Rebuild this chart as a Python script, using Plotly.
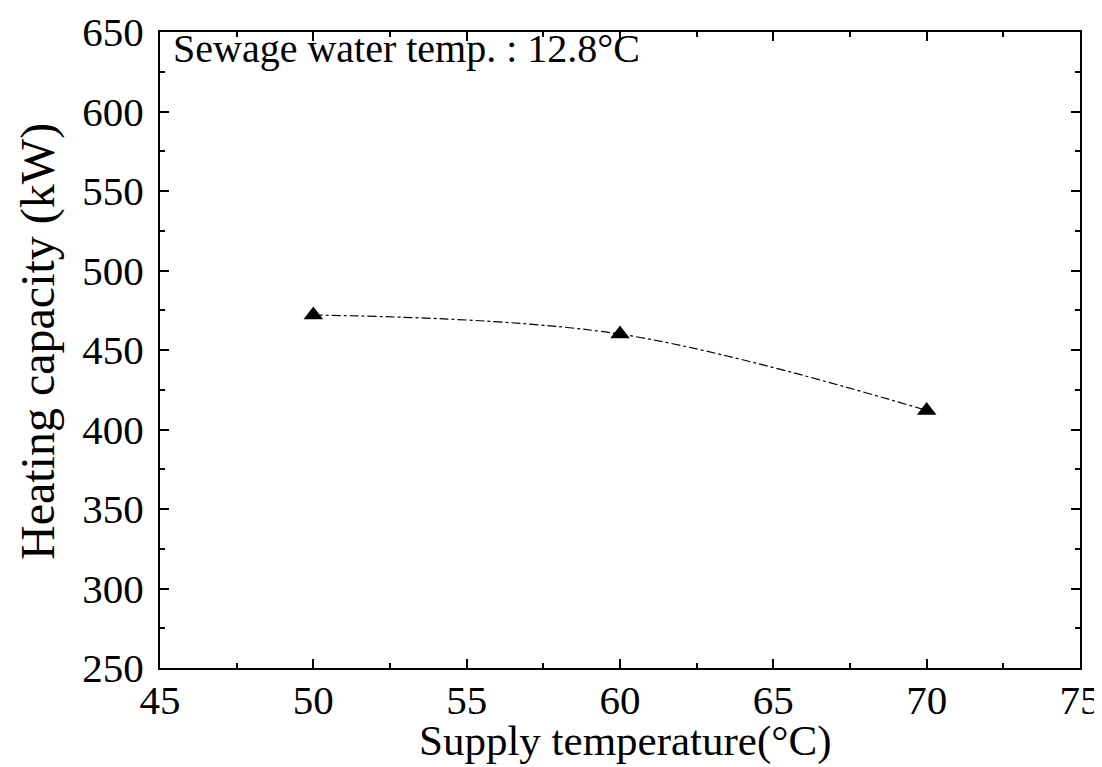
import plotly.graph_objects as go

supply_temp = [50, 60, 70]
heating_capacity = [472, 460, 412]

x_ticks = [45, 50, 55, 60, 65, 70, 75]
y_ticks = [250, 300, 350, 400, 450, 500, 550, 600, 650]

font_family = "Liberation Serif, Times New Roman, serif"

fig = go.Figure()
fig.add_trace(go.Scatter(
    x=supply_temp, y=heating_capacity,
    mode="lines+markers",
    line=dict(color="black", width=1.2, dash="dashdot", shape="spline"),
    marker=dict(symbol="triangle-up", size=17, color="black"),
    showlegend=False,
))

axis_common = dict(
    showline=True, linecolor="black", linewidth=2, mirror="allticks",
    ticks="inside", ticklen=9, tickwidth=1.5, tickcolor="black",
    showgrid=False, zeroline=False, automargin=False,
    tickfont=dict(family=font_family, size=41, color="black"),
)

fig.update_layout(
    width=1102, height=767,
    margin=dict(l=152, r=30, t=24, b=107),
    paper_bgcolor="white", plot_bgcolor="white",
    font=dict(family=font_family, color="black"),
    xaxis=dict(range=[45, 75], tickvals=x_ticks, ticklabelstandoff=-5,
               minor=dict(ticks="inside", dtick=2.5, ticklen=5, tickcolor="black"),
               **axis_common),
    yaxis=dict(range=[250, 650], tickvals=y_ticks, ticklabelstandoff=6,
               minor=dict(ticks="inside", dtick=25, ticklen=5, tickcolor="black"),
               **axis_common),
    annotations=[
        dict(x=0.012, y=1.012, xref="paper", yref="paper", xanchor="left", yanchor="top",
             text="Sewage water temp. : 12.8°C", showarrow=False,
             font=dict(family=font_family, size=40, color="black")),
        dict(x=0.505, y=-0.115, xref="paper", yref="paper", xanchor="center", yanchor="middle",
             text="Supply temperature(°C)", showarrow=False,
             font=dict(family=font_family, size=43, color="black")),
        dict(x=-0.1326, y=0.5126, xref="paper", yref="paper", xanchor="center", yanchor="middle",
             text="Heating capacity (kW)", showarrow=False, textangle=-90,
             font=dict(family=font_family, size=48, color="black")),
    ],
)

fig.write_html("out.html")
